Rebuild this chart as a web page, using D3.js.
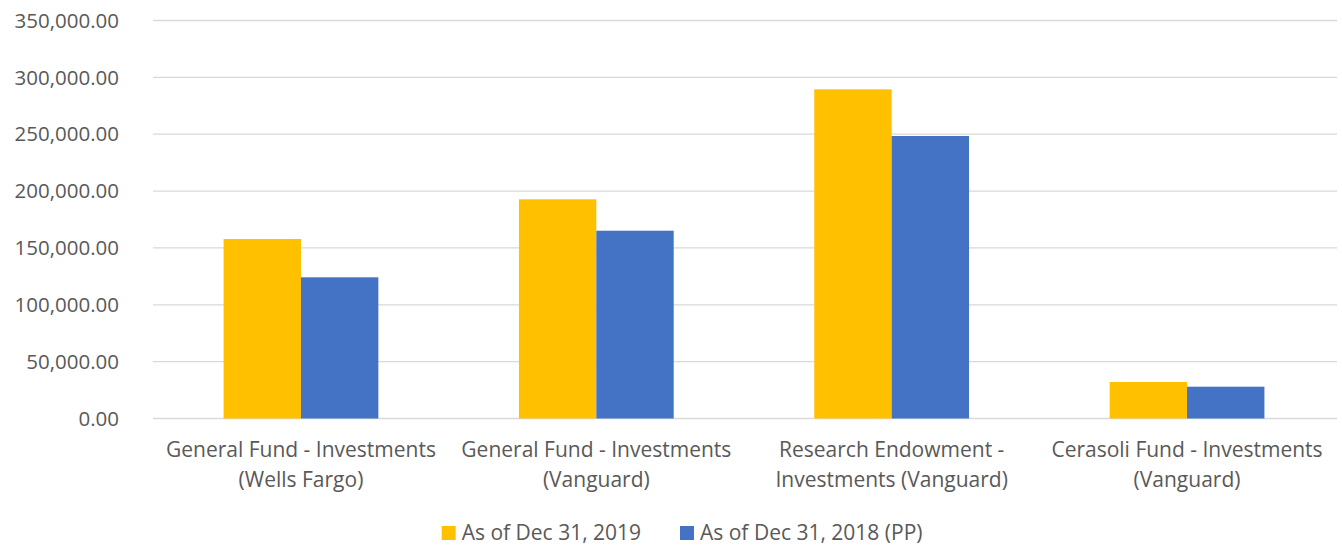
<!DOCTYPE html>
<html>
<head>
<meta charset="utf-8">
<script src="https://cdn.jsdelivr.net/npm/d3@7"></script>
<style>
  body { margin: 0; background: #fff; }
  text { font-family: "Open Sans", sans-serif; fill: #595959; }
</style>
</head>
<body>
<svg id="chart"></svg>
<script>
// categories, each label split in two lines
let categories = [
  ["General Fund - Investments", "(Wells Fargo)"],
  ["General Fund - Investments", "(Vanguard)"],
  ["Research Endowment -", "Investments (Vanguard)"],
  ["Cerasoli Fund - Investments", "(Vanguard)"]
];
let seriesNames = ["As of Dec 31, 2019", "As of Dec 31, 2018 (PP)"];
let values2019 = [157850, 192750, 289480, 32100];
let values2018 = [124170, 165140, 248420, 27970];
let yTicks = [0, 50000, 100000, 150000, 200000, 250000, 300000, 350000];
let colors = ["#FFC000", "#4472C4"];

let width = 1342;
let height = 546;
let svg = d3.select("#chart").attr("width", width).attr("height", height);

let x = d3.scaleBand()
  .domain(d3.range(categories.length))
  .range([153.3, 1334.7])
  .paddingInner(0.476)
  .paddingOuter(0.238);
let xs = d3.scaleBand().domain([0, 1]).range([0, x.bandwidth()]);
let y = d3.scaleLinear().domain([0, 350000]).range([418.5, 20.5]);

let fmt = d3.format(",.2f");

// gridlines
svg.append("g").selectAll("line").data(yTicks).enter().append("line")
  .attr("x1", 153).attr("x2", 1337)
  .attr("y1", d => y(d)).attr("y2", d => y(d))
  .attr("stroke", "#d9d9d9").attr("stroke-width", 1.3);

// y labels
svg.append("g").selectAll("text").data(yTicks).enter().append("text")
  .attr("x", 119).attr("y", d => y(d)).attr("dy", "0.35em")
  .attr("text-anchor", "end").style("font-size", "20.5px")
  .text(d => fmt(d));

// bars
let series = [values2019, values2018];
series.forEach(function(vals, si) {
  svg.append("g").selectAll("rect").data(vals).enter().append("rect")
    .attr("x", (d, i) => x(i) + xs(si))
    .attr("width", xs.bandwidth())
    .attr("y", d => y(d))
    .attr("height", d => y(0) - y(d))
    .attr("fill", colors[si]);
});

// category labels (two lines each)
categories.forEach(function(lines, i) {
  let t = svg.append("text").attr("text-anchor", "middle").style("font-size", "21px");
  lines.forEach(function(line, j) {
    t.append("tspan")
      .attr("x", x(i) + x.bandwidth() / 2)
      .attr("y", 450 + j * 29.5)
      .attr("dy", "0.35em")
      .text(line);
  });
});

// legend
let legend = svg.append("g");
let legendX = [441.7, 680];
seriesNames.forEach(function(name, i) {
  legend.append("rect").attr("x", legendX[i]).attr("y", 526).attr("width", 14).attr("height", 14).attr("fill", colors[i]);
  legend.append("text").attr("x", legendX[i] + 20).attr("y", 533).attr("dy", "0.35em")
    .style("font-size", "21px").text(name);
});
</script>
</body>
</html>
